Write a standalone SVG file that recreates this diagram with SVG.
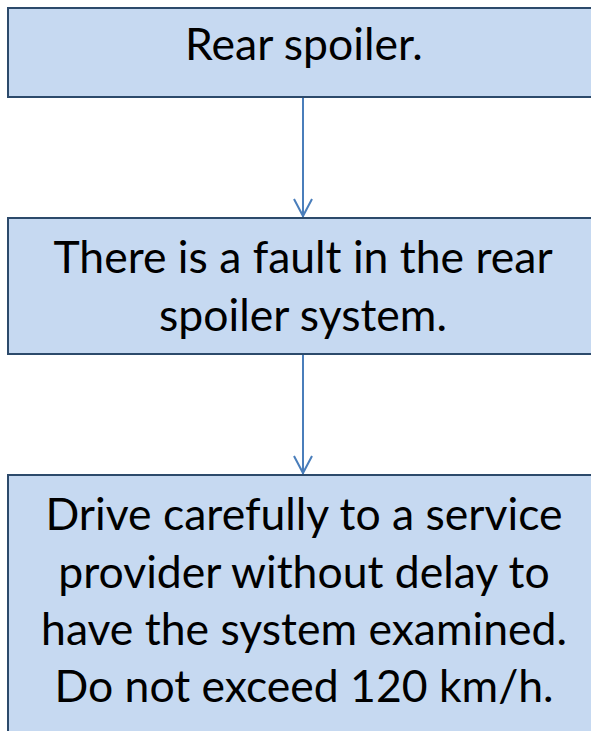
<svg xmlns="http://www.w3.org/2000/svg" width="591" height="731" viewBox="0 0 591 731">
<style>
.box{fill:#C6D9F1;stroke:#2C4A6B;stroke-width:2}
.t{font-family:Lato,"Open Sans","Liberation Sans",sans-serif;font-size:44.5px;fill:#000;text-anchor:middle}
.c{stroke:#4A7EBB;stroke-width:2;fill:none}
</style>
<g id="connectors">
<line class="c" x1="303" y1="97" x2="303" y2="217"/>
<line class="c" x1="303" y1="354" x2="303" y2="474"/>
<path d="M294,199 L303,216 L312,199" class="c"/>
<path d="M294,456 L303,473 L312,456" class="c"/>
</g>
<g id="n1">
<rect class="box" x="8" y="8" width="590" height="89"/>
<text class="t" x="304" y="60">Rear spoiler.</text>
</g>
<g id="n2">
<rect class="box" x="8" y="218" width="590" height="136"/>
<text class="t" x="303" y="273">There is a fault in the rear</text>
<text class="t" x="303" y="331">spoiler system.</text>
</g>
<g id="n3">
<rect class="box" x="8" y="475" width="590" height="270"/>
<text class="t" x="304" y="530">Drive carefully to a service</text>
<text class="t" x="304" y="588">provider without delay to</text>
<text class="t" x="304" y="645">have the system examined.</text>
<text class="t" x="304" y="702">Do not exceed 120 km/h.</text>
</g>
</svg>
